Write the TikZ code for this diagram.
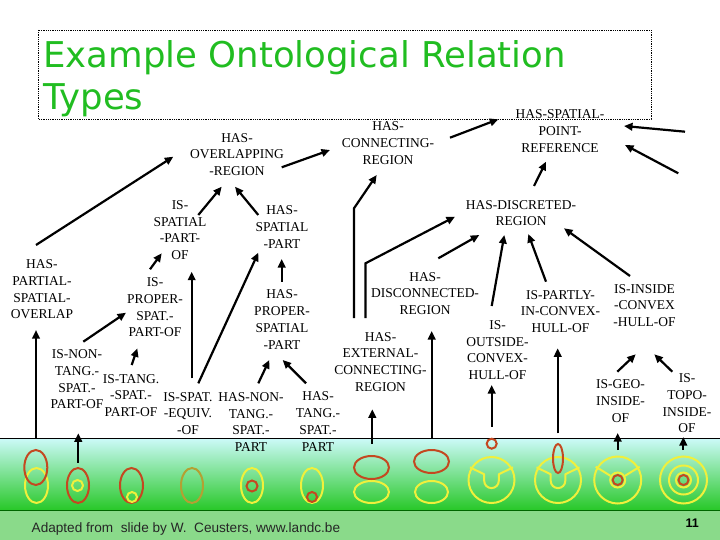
\documentclass[tikz,border=0pt]{standalone}
\usepackage{fontspec}
\setmainfont{Liberation Serif}
\newfontfamily\titlefont{DejaVu Sans}
\newfontfamily\footfont{Liberation Sans}
\usetikzlibrary{arrows.meta,shapes.geometric,calc}
\definecolor{ttlgreen}{RGB}{33,189,33}
\definecolor{shred}{RGB}{196,72,32}
\definecolor{shyel}{RGB}{240,240,60}
\definecolor{sholive}{RGB}{180,160,50}
\definecolor{bandtop}{RGB}{205,250,250}
\definecolor{bandmid}{RGB}{150,232,190}
\definecolor{bandbot}{RGB}{40,200,40}
\definecolor{hatchgreen}{RGB}{138,218,138}
\begin{document}
\begin{tikzpicture}[x=1pt,y=-1pt,
  lbl/.style={align=center, font=\fontsize{13.5}{16.7}\selectfont, inner sep=1pt},
  arr/.style={line width=2.2pt, -{Triangle[length=8.5pt,width=7.5pt]}},
  redl/.style={draw=shred, line width=2pt, inner sep=0pt},
  yell/.style={draw=shyel, line width=2pt, inner sep=0pt},
  oliv/.style={draw=sholive, line width=2pt, inner sep=0pt},
  yline/.style={draw=shyel, line width=2pt, line join=round}
]
\useasboundingbox (0,0) rectangle (720,540);
% background band and footer
\shade[top color=bandtop, middle color=bandmid, bottom color=bandbot] (0,438) rectangle (720,510);
\fill[hatchgreen] (0,510) rectangle (720,540);
\draw[line width=1pt] (0,438) -- (720,438);
\draw[line width=1pt, draw=black!60!green] (0,510) -- (720,510);
% title
\draw[densely dotted, line width=0.8pt] (38,30) rectangle (651,119);
\node[anchor=north west, inner sep=0pt, align=left, text=ttlgreen,
      font=\titlefont\fontsize{35.5}{42}\selectfont] (title) at (43.2,40)
      {Example Ontological Relation\\Types};
% relation labels
\node[lbl] (ovl) at (237,154.5) {HAS-\\OVERLAPPING\\-REGION};
\node[lbl] (con) at (388,143) {HAS-\\CONNECTING-\\REGION};
\node[lbl] (spr) at (560,131) {HAS-SPATIAL-\\POINT-\\REFERENCE};
\node[lbl] (dis) at (521,213) {HAS-DISCRETED-\\REGION};
\node[lbl] (isp) at (180,230) {IS-\\SPATIAL\\-PART-\\OF};
\node[lbl] (hsp) at (282,227) {HAS-\\SPATIAL\\-PART};
\node[lbl] (pso) at (42,289.5) {HAS-\\PARTIAL-\\SPATIAL-\\OVERLAP};
\node[lbl] (ipp) at (155,307.5) {IS-\\PROPER-\\SPAT.-\\PART-OF};
\node[lbl] (hpp) at (282,319.5) {HAS-\\PROPER-\\SPATIAL\\-PART};
\node[lbl] (ntp) at (77,379.5) {IS-NON-\\TANG.-\\SPAT.-\\PART-OF};
\node[lbl] (itp) at (131,395.5) {IS-TANG.\\-SPAT.-\\PART-OF};
\node[lbl] (seq) at (188,413.5) {IS-SPAT.\\-EQUIV.\\-OF};
\node[lbl] (hnt) at (251,422) {HAS-NON-\\TANG.-\\SPAT.-\\PART};
\node[lbl] (htp) at (318,421.5) {HAS-\\TANG.-\\SPAT.-\\PART};
\node[lbl] (ext) at (380.5,361.7) {HAS-\\EXTERNAL-\\CONNECTING-\\REGION};
\node[lbl] (dco) at (425,293.3) {HAS-\\DISCONNECTED-\\REGION};
\node[lbl] (out) at (497.5,350) {IS-\\OUTSIDE-\\CONVEX-\\HULL-OF};
\node[lbl] (prt) at (560.5,311.5) {IS-PARTLY-\\IN-CONVEX-\\HULL-OF};
\node[lbl] (ins) at (644.5,305.3) {IS-INSIDE\\-CONVEX\\-HULL-OF};
\node[lbl] (geo) at (620.5,401) {IS-GEO-\\INSIDE-\\OF};
\node[lbl] (top) at (687,403.5) {IS-\\TOPO-\\INSIDE-\\OF};
% region pictures
\node[yell, ellipse, minimum width=23pt, minimum height=35pt] (s1y) at (36.5,485.5) {};
\node[redl, ellipse, minimum width=23pt, minimum height=35pt] (s1) at (35.8,467.5) {};
\node[redl, ellipse, minimum width=22pt, minimum height=35pt] (s2) at (78,485.5) {};
\node[yell, circle, minimum size=11pt] (s2i) at (77.5,485.5) {};
\node[redl, ellipse, minimum width=23pt, minimum height=35pt] (s3) at (131.5,485.5) {};
\node[yell, circle, minimum size=10pt] (s3i) at (132,497) {};
\node[oliv, ellipse, minimum width=22pt, minimum height=35pt] (s4) at (192,485.5) {};
\node[yell, ellipse, minimum width=22pt, minimum height=35pt] (s5) at (252,485.5) {};
\node[redl, circle, minimum size=11pt] (s5i) at (252,486) {};
\node[yell, ellipse, minimum width=22pt, minimum height=35pt] (s6) at (312,485.5) {};
\node[redl, circle, minimum size=10pt] (s6i) at (312,497) {};
\node[yell, ellipse, minimum width=35pt, minimum height=22pt] (s7y) at (371.5,492) {};
\node[redl, ellipse, minimum width=35pt, minimum height=23pt] (s7) at (371.5,467.5) {};
\node[yell, ellipse, minimum width=33pt, minimum height=22pt] (s8y) at (431.5,492) {};
\node[redl, ellipse, minimum width=35pt, minimum height=23pt] (s8) at (431.5,461.5) {};
% notched convex regions
\node[yell, circle, minimum size=46pt] (s9y) at (491.5,480) {};
\draw[yline] ($(s9y)+(-21.5,-12.7)$) -- ($(s9y)+(-7.3,-5.7)$) -- ($(s9y)+(-7.3,0.8)$)
   arc[start angle=180, end angle=0, radius=7.3] -- ($(s9y)+(7.3,-5.7)$) -- ($(s9y)+(21.5,-12.7)$);
\node[redl, circle, minimum size=10pt] (s9) at (491.7,443.7) {};
\node[yell, circle, minimum size=46pt] (s10y) at (558,480) {};
\draw[yline] ($(s10y)+(-21.5,-12.7)$) -- ($(s10y)+(-7.3,-5.7)$) -- ($(s10y)+(-7.3,0.8)$)
   arc[start angle=180, end angle=0, radius=7.3] -- ($(s10y)+(7.3,-5.7)$) -- ($(s10y)+(21.5,-12.7)$);
\node[redl, ellipse, minimum width=10pt, minimum height=29pt] (s10) at (558,458.5) {};
\node[yell, circle, minimum size=47pt] (s11y) at (617.7,480) {};
\node[yell, circle, minimum size=15pt] (s11r) at (617.7,480) {};
\draw[yline] ($(s11y)+(-22,-13.3)$) -- (s11r.150);
\draw[yline] ($(s11y)+(22,-13.3)$) -- (s11r.30);
\node[redl, circle, minimum size=10pt] (s11) at (617.7,480) {};
\node[yell, circle, minimum size=47pt] (s12y) at (683.5,480) {};
\node[yell, circle, minimum size=29pt] (s12m) at (683.5,480) {};
\node[yell, circle, minimum size=15pt] (s12r) at (683.5,480) {};
\node[redl, circle, minimum size=10pt] (s12) at (683.5,480) {};
% free ends of connectors entering from the right
\coordinate (rf1) at (685,131.7);
\coordinate (rf2) at (678.3,173.3);
% connectors
\draw[arr] ($(pso)+(-6,-44.5)$) -- ($(ovl)+(-63.7,2.2)$);
\draw[arr] ($(isp)+(18.3,-15)$) -- ($(ovl)+(-15.3,32.2)$);
\draw[arr] ($(hsp)+(-23.7,-12)$) -- ($(ovl)+(-2,32.2)$);
\draw[arr] ($(ovl)+(44.7,12.8)$) -- ($(con)+(-58,7)$);
\draw[arr] ($(ext)+(-26.5,-43.7)$) -- ($(ext)+(-26.5,-153.4)$) -- ($(con)+(-11.3,32)$);
\draw[arr] ($(ext)+(-15,-43.7)$) -- ($(ext)+(-15,-98.4)$) -- ($(dis)+(-66,3.7)$);
\draw[arr] ($(dco)+(13.3,-35)$) -- ($(dis)+(-41.7,22)$);
\draw[arr] ($(out)+(-5.8,-44)$) -- ($(dis)+(-16.7,22)$);
\draw[arr] ($(prt)+(-14.5,-29.8)$) -- ($(dis)+(7.3,21)$);
\draw[arr] ($(ins)+(-14.5,-29.3)$) -- ($(dis)+(43,15.3)$);
\draw[arr] ($(dis)+(13,-27)$) -- ($(spr)+(-14,30.7)$);
\draw[arr] ($(con)+(62,-5.3)$) -- ($(spr)+(-61.7,-11.7)$);
\draw[arr] (rf1) -- ($(spr)+(64,-5)$);
\draw[arr] (rf2) -- ($(spr)+(65,14)$);
\draw[arr] ($(ipp)+(-5,-38.2)$) -- ($(isp)+(-18.3,23.3)$);
\draw[arr] ($(ntp)+(6.3,-37.8)$) -- ($(ipp)+(-29,5.2)$);
\draw[arr] ($(itp)+(0.7,-30.5)$) -- ($(ipp)+(-17.7,40.8)$);
\draw[arr] ($(seq)+(3.7,-35.2)$) -- ($(isp)+(11.7,41.7)$);
\draw[arr] ($(seq)+(10.3,-30.2)$) -- ($(hsp)+(-23.7,25.7)$);
\draw[arr] ($(hpp)+(-0.3,-37.8)$) -- ($(hsp)+(-0.3,32)$);
\draw[arr] ($(hnt)+(7.3,-38.7)$) -- ($(hpp)+(-12.7,40.5)$);
\draw[arr] ($(htp)+(-12,-38.2)$) -- ($(hpp)+(0.7,40.5)$);
\draw[arr] ($(s1)+(0.2,-29.5)$) -- ($(pso)+(-6,40.5)$);
\draw[arr] ($(s2)+(0.3,-22.8)$) -- ($(ntp)+(1.3,53.8)$);
\draw[arr] ($(s7)+(0.8,-23.5)$) -- ($(ext)+(-8.2,47.6)$);
\draw[arr] ($(s8)+(0.2,-23.5)$) -- ($(dco)+(6.7,37.7)$);
\draw[arr] ($(s9)+(0,-17)$) -- ($(out)+(-5.8,35)$);
\draw[arr] ($(s10)+(-0.3,-25.2)$) -- ($(prt)+(-2.8,36.8)$);
\draw[arr] ($(geo)+(-3.2,-29.3)$) -- ($(ins)+(-8.8,49)$);
\draw[arr] ($(top)+(-14.7,-31.8)$) -- ($(ins)+(9.8,49)$);
\draw[arr] ($(s11)+(0,-30)$) -- ($(geo)+(-2.8,32)$);
\draw[arr] ($(s12)+(-0.2,-30)$) -- ($(top)+(-3.7,33.5)$);
% footer
\node[anchor=base west, inner sep=0pt, text=black!85, font=\footfont\fontsize{13.6}{15}\selectfont] (foot) at (31.5,532.3) {Adapted from\ \ slide by W.\ \ Ceusters, www.landc.be};
\node[anchor=base west, inner sep=0pt, font=\footfont\bfseries\fontsize{12.5}{15}\selectfont] (pgno) at (685.5,527) {11};
\end{tikzpicture}
\end{document}
